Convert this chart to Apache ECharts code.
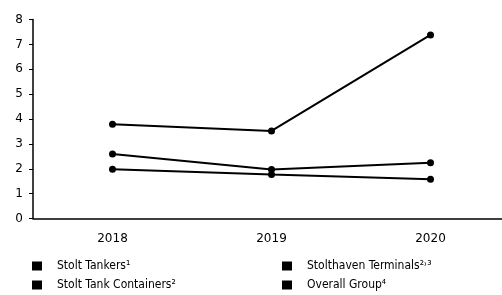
<!DOCTYPE html>
<html>
<head>
<meta charset="utf-8">
<script src="https://cdn.jsdelivr.net/npm/echarts@6/dist/echarts.min.js"></script>
<style>
  html, body { margin: 0; padding: 0; background: #fff; }
  #chart { width: 502px; height: 295px; }
</style>
</head>
<body>
<div id="chart"></div>
<script>
const years = ['2018', '2019', '2020']
const stoltTankers = [2.59, 1.97, 2.24]
const stolthavenTerminals = [3.79, 3.52, 7.38]
const stoltTankContainers = [1.98, 1.77, 1.58]
const overallGroup = []

const FONT = 'DejaVu Sans'
const INK = '#000'

function lineSeries(name, data) {
  return {
    name,
    type: 'line',
    data,
    symbol: 'circle',
    symbolSize: 7,
    color: INK,
    lineStyle: { color: INK, width: 2 },
    itemStyle: { color: INK },
    emphasis: { disabled: true }
  }
}

const legendBase = {
  orient: 'vertical',
  top: 260,
  height: 40,
  padding: 0,
  icon: 'rect',
  itemWidth: 10,
  itemHeight: 9,
  itemGap: 7,
  selectedMode: false,
  textStyle: { fontFamily: 'DejaVu Sans Condensed', fontSize: 12, color: INK, padding: [0, 0, 0, 10] }
}

const chart = echarts.init(document.getElementById('chart'), null, { renderer: 'canvas' })
chart.setOption({
  animation: false,
  grid: { left: 33, top: 19.5, width: 477, bottom: 76.5, outerBoundsMode: 'none' },
  legend: [
    { ...legendBase, left: 32, data: ['Stolt Tankers¹', 'Stolt Tank Containers²'] },
    { ...legendBase, left: 282, data: ['Stolthaven Terminals²˒³', 'Overall Group⁴'] }
  ],
  xAxis: {
    type: 'category',
    data: years,
    axisLine: { lineStyle: { color: INK, width: 1.5 } },
    axisTick: { alignWithLabel: true, length: 4, lineStyle: { color: INK } },
    axisLabel: { fontFamily: FONT, fontSize: 12, color: INK, margin: 14 }
  },
  yAxis: {
    type: 'value',
    min: 0,
    max: 8,
    interval: 1,
    splitLine: { show: false },
    axisLine: { show: true, lineStyle: { color: INK, width: 1.5 } },
    axisTick: { show: true, length: 4, lineStyle: { color: INK } },
    axisLabel: { fontFamily: FONT, fontSize: 12, color: INK, margin: 10 }
  },
  series: [
    lineSeries('Stolt Tankers¹', stoltTankers),
    lineSeries('Stolthaven Terminals²˒³', stolthavenTerminals),
    lineSeries('Stolt Tank Containers²', stoltTankContainers),
    lineSeries('Overall Group⁴', overallGroup)
  ]
})
</script>
</body>
</html>
